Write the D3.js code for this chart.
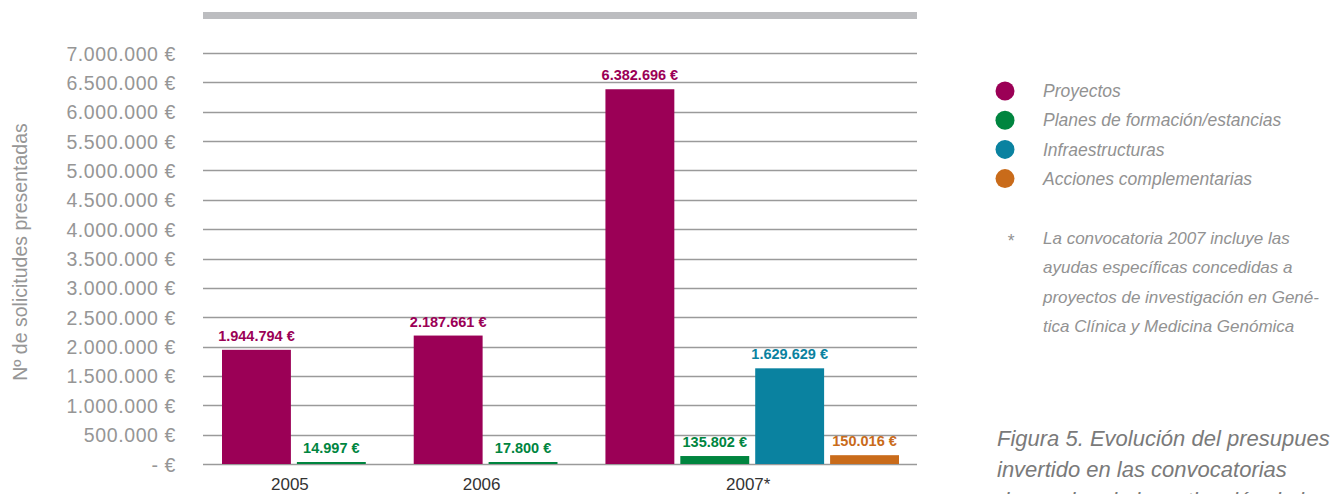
<!DOCTYPE html>
<html>
<head>
<meta charset="utf-8">
<script src="https://cdn.jsdelivr.net/npm/d3@7"></script>
<style>
  body { margin: 0; background: #fff; }
  svg { display: block; }
  .ylab { font-family: "Liberation Sans", Arial, sans-serif; font-size: 19.5px; fill: #969696; letter-spacing: 0.6px; }
  .note { font-family: "Liberation Sans", Arial, sans-serif; font-style: italic; fill: #929292; }
</style>
</head>
<body>
<div id="main"></div>
<script>
// Data
var years = ['2005', '2006', '2007*'];
var seriesNames = ['Proyectos', 'Planes de formación/estancias', 'Infraestructuras', 'Acciones complementarias'];
var seriesColors = ['#9b0056', '#00853f', '#0a82a0', '#c96b1a'];
var proyectos = [1944794, 2187661, 6382696];
var planes = [14997, 17800, 135802];
var infraestructuras = [null, null, 1629629];
var acciones = [null, null, 150016];
var yTicks = [0, 500000, 1000000, 1500000, 2000000, 2500000, 3000000, 3500000,
              4000000, 4500000, 5000000, 5500000, 6000000, 6500000, 7000000];
var footnote = ['La convocatoria 2007 incluye las', 'ayudas específicas concedidas a',
                'proyectos de investigación en Gené-', 'tica Clínica y Medicina Genómica'];
var caption = ['Figura 5. Evolución del presupuesto', 'invertido en las convocatorias',
               'de ayudas de investigación de la'];

var svgWidth = 1330;
var svgHeight = 494;
var plot = {l: 203, r: 917, t: 53, b: 464};

var svg = d3.select('#main')
  .append('svg')
  .attr('width', svgWidth)
  .attr('height', svgHeight);

// number formatting with dots as thousands separator
var fmt = function(v) { return d3.format(',')(v).replace(/,/g, '.') + ' €'; };

var yScale = d3.scaleLinear().domain([0, 7000000]).range([plot.b, plot.t]);

// build bar list: each year keeps only the series it has
var allSeries = [proyectos, planes, infraestructuras, acciones];
var bars = [];
var groups = [];
var slot = 0;
var groupGap = 0.56; // extra gap between year groups, in bar steps
years.forEach(function(year, gi) {
  var start = slot + gi * groupGap;
  var n = 0;
  allSeries.forEach(function(values, si) {
    if (values[gi] != null) {
      bars.push({year: year, series: si, value: values[gi], pos: start + n});
      n++;
    }
  });
  groups.push({year: year, start: start, n: n});
  slot += n;
});

var barUnit = 0.92;
var lastPos = d3.max(bars, function(d) { return d.pos; }) + barUnit;
var xScale = d3.scaleLinear().domain([0, lastPos]).range([plot.l + 19, plot.r - 18]);
var barW = xScale(barUnit) - xScale(0);

// grey band on top
svg.append('rect')
  .attr('x', plot.l).attr('y', 12)
  .attr('width', plot.r - plot.l).attr('height', 7)
  .attr('fill', '#bcbdc0');

// gridlines
svg.append('g')
  .selectAll('line')
  .data(yTicks)
  .enter()
  .append('line')
  .attr('x1', plot.l).attr('x2', plot.r)
  .attr('y1', function(d) { return Math.round(yScale(d)) + 0.5; })
  .attr('y2', function(d) { return Math.round(yScale(d)) + 0.5; })
  .attr('stroke', '#9a9a9a')
  .attr('stroke-width', 1.5);

// y axis labels
var yAxis = d3.axisLeft(yScale)
  .tickValues(yTicks)
  .tickSize(0)
  .tickPadding(0)
  .tickFormat(function(d) { return d === 0 ? '- €' : fmt(d); });

var yAxisG = svg.append('g')
  .attr('transform', 'translate(176,0)')
  .call(yAxis);
yAxisG.select('.domain').remove();
yAxisG.selectAll('text')
  .attr('class', 'ylab')
  .attr('dy', '0.36em')
  .attr('font-family', null)
  .attr('font-size', null)
  .attr('fill', null);

// y axis title
svg.append('text')
  .attr('transform', 'translate(27,252) rotate(-90)')
  .attr('text-anchor', 'middle')
  .style('font-family', '"Liberation Sans", Arial, sans-serif')
  .style('font-size', '19.5px')
  .style('fill', '#969696')
  .text('Nº de solicitudes presentadas');

// bars
svg.append('g')
  .selectAll('rect')
  .data(bars)
  .enter()
  .append('rect')
  .attr('x', function(d) { return xScale(d.pos); })
  .attr('width', barW)
  .attr('y', function(d) { return Math.min(yScale(d.value), plot.b - 2); })
  .attr('height', function(d) { return Math.max(plot.b - yScale(d.value), 2); })
  .attr('fill', function(d) { return seriesColors[d.series]; });

// value labels
svg.append('g')
  .selectAll('text')
  .data(bars)
  .enter()
  .append('text')
  .attr('x', function(d) { return xScale(d.pos) + barW / 2; })
  .attr('y', function(d) { return Math.min(yScale(d.value), plot.b - 2) - 9; })
  .attr('text-anchor', 'middle')
  .style('font-family', '"Liberation Sans", Arial, sans-serif')
  .style('font-weight', 'bold')
  .style('font-size', '14.5px')
  .style('fill', function(d) { return seriesColors[d.series]; })
  .text(function(d) { return fmt(d.value); });

// year labels
svg.append('g')
  .selectAll('text')
  .data(groups)
  .enter()
  .append('text')
  .attr('x', function(d) { return (xScale(d.start) + xScale(d.start + d.n - 1 + barUnit)) / 2 - 4; })
  .attr('y', 490)
  .attr('text-anchor', 'middle')
  .style('font-family', '"Liberation Sans", Arial, sans-serif')
  .style('font-size', '17px')
  .style('fill', '#333')
  .text(function(d) { return d.year; });

// legend
var legend = svg.append('g')
  .selectAll('g')
  .data(seriesNames)
  .enter()
  .append('g')
  .attr('transform', function(d, i) { return 'translate(1005,' + (91 + i * 29.2) + ')'; });
legend.append('circle')
  .attr('r', 9.5)
  .attr('fill', function(d, i) { return seriesColors[i]; });
legend.append('text')
  .attr('class', 'note')
  .attr('x', 38)
  .attr('dy', '0.35em')
  .style('font-size', '17.5px')
  .text(function(d) { return d; });

// footnote
svg.append('text')
  .attr('class', 'note')
  .attr('x', 1007).attr('y', 247)
  .style('font-size', '17.5px')
  .text('*');
svg.append('g')
  .selectAll('text')
  .data(footnote)
  .enter()
  .append('text')
  .attr('class', 'note')
  .attr('x', 1043)
  .attr('y', function(d, i) { return 244 + i * 29.3; })
  .style('font-size', '17px')
  .text(function(d) { return d; });

// caption (runs off the right/bottom edge as in the source page)
svg.append('g')
  .selectAll('text')
  .data(caption)
  .enter()
  .append('text')
  .attr('class', 'note')
  .attr('x', 997)
  .attr('y', function(d, i) { return 446 + i * 31; })
  .style('font-size', '22px')
  .style('fill', '#7a7a7a')
  .text(function(d) { return d; });
</script>
</body>
</html>
